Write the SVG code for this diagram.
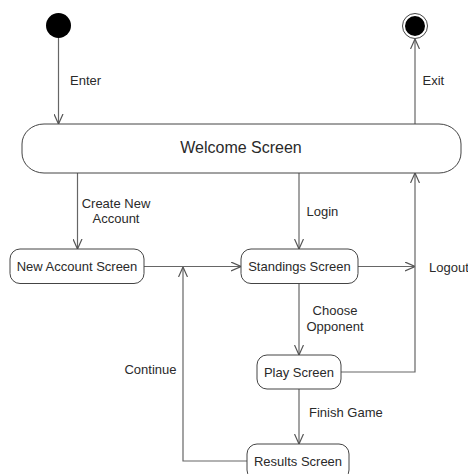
<svg xmlns="http://www.w3.org/2000/svg" width="468" height="474" viewBox="0 0 468 474">
  <style>
    .state { fill: #ffffff; stroke: #444444; stroke-width: 1; }
    .label { font-family: "Liberation Sans", Arial, sans-serif; font-size: 13px; fill: #2a2a2a; }
    .title { font-family: "Liberation Sans", Arial, sans-serif; font-size: 16px; fill: #2a2a2a; }
    .edge { fill: none; stroke: #666666; stroke-width: 1.2; }
  </style>
  <defs>
    <marker id="open" viewBox="0 0 10 10" refX="10" refY="5" markerWidth="10" markerHeight="10" markerUnits="userSpaceOnUse" orient="auto">
      <path d="M0,0.5 L10,5 L0,9.5" fill="none" stroke="#555555" stroke-width="1.2"/>
    </marker>
  </defs>
  <rect width="468" height="474" fill="#ffffff"/>

  <g id="connectors">
    <path class="edge" d="M58.5,38 L58.5,124" marker-end="url(#open)"/>
    <path class="edge" d="M415,124 L415,39" marker-end="url(#open)"/>
    <path class="edge" d="M77.5,173 L77.5,249" marker-end="url(#open)"/>
    <path class="edge" d="M299,173 L299,249" marker-end="url(#open)"/>
    <path class="edge" d="M144,266.5 L241,266.5" marker-end="url(#open)"/>
    <path class="edge" d="M358,266.5 L415,266.5" marker-end="url(#open)"/>
    <path class="edge" d="M341,372 L415,372 L415,173" marker-end="url(#open)"/>
    <path class="edge" d="M299,284 L299,355" marker-end="url(#open)"/>
    <path class="edge" d="M299,389 L299,444" marker-end="url(#open)"/>
    <path class="edge" d="M247,461 L183,461 L183,267" marker-end="url(#open)"/>
    <text class="label" x="70" y="84.5">Enter</text>
    <text class="label" x="422.5" y="84.5">Exit</text>
    <text class="label" x="116" y="207.5" text-anchor="middle">Create New</text>
    <text class="label" x="116" y="223" text-anchor="middle">Account</text>
    <text class="label" x="306.5" y="215.5">Login</text>
    <text class="label" x="429" y="271.5">Logout</text>
    <text class="label" x="335" y="315" text-anchor="middle">Choose</text>
    <text class="label" x="335" y="331" text-anchor="middle">Opponent</text>
    <text class="label" x="150.5" y="373.5" text-anchor="middle">Continue</text>
    <text class="label" x="309" y="416.5">Finish Game</text>
  </g>

  <g id="initial">
    <circle cx="58.5" cy="25.5" r="12.5" fill="#000000"/>
  </g>

  <g id="final">
    <circle cx="415" cy="26" r="12.5" fill="#ffffff" stroke="#444444" stroke-width="1"/>
    <circle cx="415" cy="26" r="10" fill="#000000"/>
  </g>

  <g id="welcome">
    <rect class="state" x="22" y="124" width="439" height="49" rx="22" ry="20"/>
    <text class="title" x="241" y="152.5" text-anchor="middle">Welcome Screen</text>
  </g>

  <g id="new-account">
    <rect class="state" x="10" y="249" width="134" height="34.5" rx="10"/>
    <text class="label" x="77" y="271" text-anchor="middle">New Account Screen</text>
  </g>

  <g id="standings">
    <rect class="state" x="241" y="249" width="117" height="34.5" rx="10"/>
    <text class="label" x="299.5" y="271" text-anchor="middle">Standings Screen</text>
  </g>

  <g id="play">
    <rect class="state" x="257" y="355" width="84" height="34" rx="10"/>
    <text class="label" x="299" y="376.5" text-anchor="middle">Play Screen</text>
  </g>

  <g id="results">
    <rect class="state" x="247" y="444" width="102" height="36" rx="10"/>
    <text class="label" x="298" y="465.5" text-anchor="middle">Results Screen</text>
  </g>
</svg>
